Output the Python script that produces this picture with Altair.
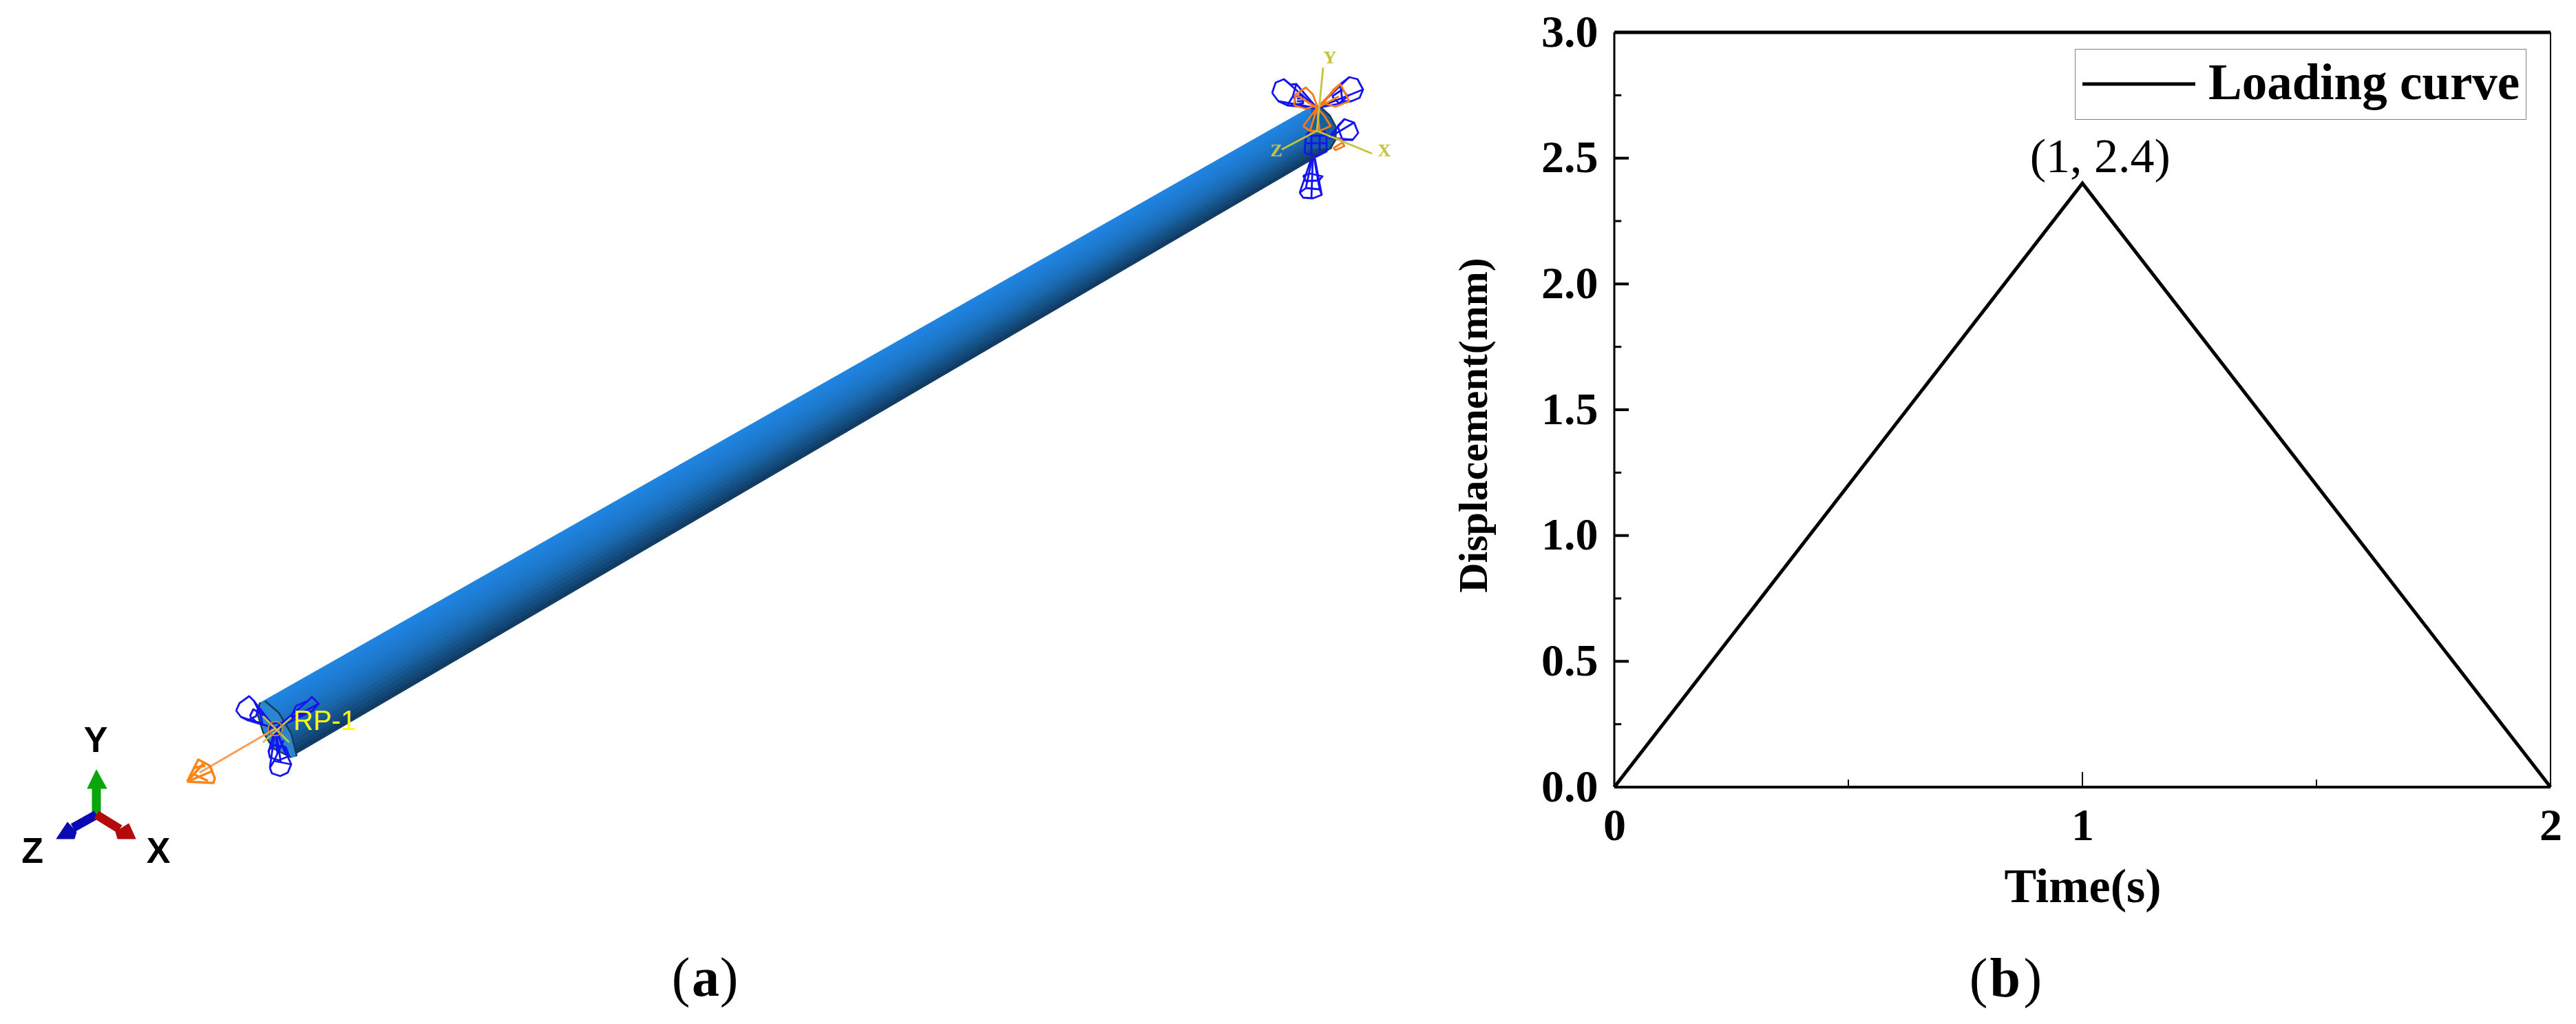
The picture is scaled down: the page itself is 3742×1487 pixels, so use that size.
import altair as alt
import pandas as pd

# ---------- right panel values ----------
time_s = [0, 1, 2]
disp_mm = [0, 2.4, 0]
series_name = "Loading curve"
y_major = [0, 0.5, 1.0, 1.5, 2.0, 2.5, 3.0]
y_minor = [0.25, 0.75, 1.25, 1.75, 2.25, 2.75]
x_major = [0, 1, 2]
x_minor = [0.5, 1.5]

SERIF = "Liberation Serif"
SANS = "Liberation Sans"

# ---------- left panel schematic, in picture coordinates ----------
tube_corners = {"tl": (379, 1020), "bl": (426, 1097), "tr": (1905, 155), "br": (1935, 215)}
tube_shades = ["#1f83e0", "#1e81dc", "#1e7ed7", "#1d7bd2", "#1d78cc", "#1c74c5", "#1b70bd",
               "#1a6bb3", "#1965a8", "#175e9c", "#15568f", "#144e82", "#124675", "#103c66"]
cap_left = [(378, 1020), (392, 1022), (410, 1040), (424, 1070), (431, 1098), (423, 1100),
            (397, 1087), (382, 1063), (373, 1033), (378, 1020)]
cap_right = [(1905, 155), (1920, 157), (1932, 168), (1941, 185), (1940, 203), (1934, 215), (1905, 215), (1905, 155)]
rim_lines = [
    [(385, 1018), (405, 1035), (423, 1065), (431, 1098)],
    [(378, 1020), (373, 1033), (382, 1063), (397, 1087), (423, 1100)],
    [(1920, 157), (1932, 168), (1941, 185), (1940, 203), (1932, 216)],
]
blue_wire = [
    [(343, 1032), (348, 1021), (362, 1011), (369, 1018), (375, 1030), (372, 1040), (360, 1046), (350, 1041), (343, 1032)],
    [(369, 1018), (400, 1058)], [(375, 1030), (400, 1058)], [(360, 1046), (400, 1058)], [(350, 1041), (400, 1058)],
    [(363, 1040), (372, 1048), (381, 1050), (378, 1036), (368, 1030), (363, 1040)],
    [(392, 1115), (398, 1105), (408, 1107), (423, 1110), (418, 1122), (407, 1127), (395, 1123), (392, 1115)],
    [(392, 1115), (400, 1058)], [(408, 1107), (400, 1058)], [(423, 1110), (400, 1058)], [(398, 1105), (412, 1075)],
    [(390, 1090), (398, 1082), (415, 1085), (420, 1098), (405, 1104), (392, 1100), (390, 1090)],
    [(430, 1025), (447, 1018), (453, 1012), (463, 1022), (453, 1033), (437, 1038), (423, 1040), (430, 1025)],
    [(447, 1018), (400, 1058)], [(453, 1033), (400, 1058)], [(463, 1022), (420, 1045)],
    [(392, 1050), (408, 1050), (408, 1066), (392, 1066), (392, 1050)],
    [(385, 1040), (400, 1058), (415, 1095)], [(400, 1058), (390, 1092)], [(400, 1058), (403, 1095)],
    [(1848, 135), (1853, 120), (1865, 115), (1875, 123), (1883, 122), (1878, 140), (1870, 153), (1857, 147), (1848, 135)],
    [(1865, 115), (1913, 157)], [(1883, 122), (1913, 157)], [(1870, 153), (1913, 157)], [(1857, 147), (1913, 157)],
    [(1880, 140), (1892, 138), (1893, 150), (1882, 152), (1880, 140)],
    [(1884, 143), (1891, 143)], [(1884, 147), (1892, 147)],
    [(1947, 122), (1960, 112), (1972, 115), (1980, 130), (1975, 142), (1963, 147), (1950, 147), (1947, 122)],
    [(1960, 112), (1913, 157)], [(1980, 130), (1913, 157)], [(1963, 147), (1913, 157)], [(1947, 122), (1913, 157)],
    [(1935, 140), (1950, 130), (1958, 140), (1945, 150), (1935, 140)],
    [(1943, 183), (1953, 173), (1967, 178), (1973, 193), (1965, 203), (1950, 203), (1943, 183)],
    [(1953, 173), (1930, 200)], [(1967, 178), (1930, 200)], [(1965, 203), (1930, 200)], [(1950, 203), (1930, 200)],
    [(1897, 197), (1927, 197), (1927, 220), (1913, 227), (1895, 222), (1897, 197)],
    [(1905, 197), (1905, 225)], [(1917, 197), (1917, 225)], [(1896, 208), (1927, 208)],
    [(1903, 190), (1897, 197)], [(1923, 190), (1927, 197)],
    [(1888, 280), (1897, 273), (1917, 275), (1920, 283), (1907, 288), (1893, 287), (1888, 280)],
    [(1888, 280), (1905, 230)], [(1897, 273), (1906, 230)], [(1917, 275), (1909, 230)], [(1920, 283), (1910, 230)], [(1905, 288), (1907, 230)],
    [(1893, 255), (1903, 252), (1921, 256), (1916, 262), (1897, 263), (1893, 255)],
]
orange_wire = [
    [(1880, 153), (1882, 137), (1897, 127), (1907, 137), (1913, 153), (1897, 158), (1880, 153)],
    [(1913, 157), (1882, 137)], [(1913, 157), (1895, 145)],
    [(1923, 150), (1937, 130), (1947, 122), (1960, 147), (1940, 155), (1923, 150)],
    [(1913, 157), (1947, 122)], [(1913, 157), (1945, 140)],
    [(1893, 183), (1903, 170), (1913, 157), (1923, 167), (1933, 183), (1917, 190), (1903, 190), (1893, 183)],
    [(1913, 157), (1903, 190)], [(1913, 157), (1917, 190)],
    [(1937, 215), (1950, 207), (1953, 212), (1940, 218), (1937, 215)],
    [(1930, 198), (1950, 203)],
]
load_shaft = [[(400, 1058), (290, 1122)]]
load_cone = [
    [(272, 1135), (288, 1103), (305, 1112), (312, 1130), (310, 1137), (272, 1135)],
    [(272, 1135), (296, 1108)], [(272, 1135), (308, 1120)],
    [(283, 1125), (302, 1134)], [(281, 1115), (298, 1112)],
]
yellow_wire = [
    [(382, 1040), (420, 1078)], [(423, 1042), (382, 1078)],
    [(1922, 98), (1913, 190)], [(1862, 217), (1913, 190)], [(1913, 190), (1993, 223)],
]
triad_shafts = [
    ("#0aa50a", [(140, 1183), (140, 1143)]),
    ("#0a0ab4", [(140, 1183), (106, 1202)]),
    ("#b40a0a", [(140, 1183), (174, 1204)]),
]
triad_heads = [
    ("#0aa50a", [(140, 1118), (127, 1145), (155, 1145), (140, 1118)]),
    ("#0a0ab4", [(82, 1218), (98, 1194), (111, 1208), (108, 1218), (82, 1218)]),
    ("#b40a0a", [(197, 1218), (187, 1196), (168, 1208), (171, 1218), (197, 1218)]),
]
sans_labels = {"text": ["Y", "Z", "X"], "x": [139, 47, 230], "y": [1092, 1253, 1253]}
rp_label = {"text": ["RP-1"], "x": [426], "y": [1060]}
csys_labels = {"text": ["Y", "Z", "X"], "x": [1932, 1854, 2011], "y": [92, 227, 227]}
ring_x, ring_y = [400], [1058]
a_text = ["(", "a", ")"]
a_x = [989, 1025, 1059]
a_y = [1446, 1446, 1446]
a_weight = ["normal", "bold", "normal"]

PAGE_X, PAGE_Y = 8, 47
L_W, L_H = 2090, 1425
xs = alt.Scale(domain=[PAGE_X, PAGE_X + L_W], nice=False, zero=False)
ys = alt.Scale(domain=[PAGE_Y + L_H, PAGE_Y], nice=False, zero=False)
X = alt.X("x:Q", scale=xs, axis=None)
Y = alt.Y("y:Q", scale=ys, axis=None)


def rows(lines):
    out = []
    for g, line in enumerate(lines):
        for i, (px, py) in enumerate(line):
            out.append({"g": g, "i": i, "x": px, "y": py})
    return pd.DataFrame(out)


def wire(lines, color, width):
    return alt.Chart(rows(lines)).mark_line(stroke=color, strokeWidth=width, strokeJoin="round", clip=False).encode(
        x=X, y=Y, detail="g:N", order="i:Q")


def poly(points, color):
    return alt.Chart(rows([points])).mark_line(fill=color, stroke=color, strokeWidth=1, clip=False).encode(
        x=X, y=Y, detail="g:N", order="i:Q")


left_layers = []
n = len(tube_shades)
(tlx, tly), (blx, bly), (trx, try_), (brx, bry) = (tube_corners[k] for k in ["tl", "bl", "tr", "br"])
for k, shade in enumerate(tube_shades):
    a, b = k / n, (k + 1) / n
    left_layers.append(poly([
        (tlx + (blx - tlx) * a, tly + (bly - tly) * a),
        (trx + (brx - trx) * a, try_ + (bry - try_) * a),
        (trx + (brx - trx) * b, try_ + (bry - try_) * b),
        (tlx + (blx - tlx) * b, tly + (bly - tly) * b),
        (tlx + (blx - tlx) * a, tly + (bly - tly) * a),
    ], shade))
left_layers.append(poly(cap_right, "#17609f"))
left_layers.append(poly(cap_left, "#2a86d2"))
left_layers.append(wire(rim_lines, "#1a3a55", 2.5))
left_layers.append(wire(blue_wire, "#1414f0", 2.8))
left_layers.append(wire(orange_wire, "#ff7a14", 2.8))
left_layers.append(wire(load_shaft, "#ff9d55", 3))
left_layers.append(wire(load_cone, "#ff8418", 3.5))
left_layers.append(wire(yellow_wire, "#c3c33c", 2.8))
left_layers.append(
    alt.Chart(pd.DataFrame({"x": ring_x, "y": ring_y})).mark_point(
        shape="circle", size=420, color="#c08a20", strokeWidth=2, filled=False, opacity=1
    ).encode(x=X, y=Y)
)
for color, shaft in triad_shafts:
    left_layers.append(wire([shaft], color, 13))
for color, head in triad_heads:
    left_layers.append(poly(head, color))
left_layers.append(
    alt.Chart(pd.DataFrame(sans_labels)).mark_text(
        font=SANS, fontWeight="bold", fontSize=52, color="#000000", baseline="alphabetic", align="center"
    ).encode(x=X, y=Y, text="text:N")
)
left_layers.append(
    alt.Chart(pd.DataFrame(rp_label)).mark_text(
        font=SANS, fontSize=40, color="#ffff00", baseline="alphabetic", align="left"
    ).encode(x=X, y=Y, text="text:N")
)
left_layers.append(
    alt.Chart(pd.DataFrame(csys_labels)).mark_text(
        font=SERIF, fontWeight="bold", fontSize=26, color="#c3c33c", baseline="alphabetic", align="center"
    ).encode(x=X, y=Y, text="text:N")
)
a_df = pd.DataFrame({"text": a_text, "x": a_x, "y": a_y, "w": a_weight})
left_layers.append(
    alt.Chart(a_df).transform_filter(alt.datum.w == "normal").mark_text(
        font=SERIF, fontSize=80, color="#000000", baseline="alphabetic", align="center"
    ).encode(x=X, y=Y, text="text:N")
)
left_layers.append(
    alt.Chart(a_df).transform_filter(alt.datum.w == "bold").mark_text(
        font=SERIF, fontWeight="bold", fontSize=80, color="#000000", baseline="alphabetic", align="center"
    ).encode(x=X, y=Y, text="text:N")
)
left = alt.layer(*left_layers).properties(width=L_W, height=L_H)

# ---------- right panel ----------
P_W, P_H = 1360, 1096
tx = alt.Scale(domain=[0, 2], nice=False, zero=False)
ty = alt.Scale(domain=[0, 3], nice=False, zero=False)
x_axis = alt.Axis(
    values=x_major, format=".0f", title="Time(s)", grid=False, ticks=False, domain=False,
    labelFont=SERIF, labelFontWeight="bold", labelFontSize=66, labelColor="#000000", labelPadding=24,
    labelFlush=False, labelOverlap=False,
    titleFont=SERIF, titleFontWeight="bold", titleFontSize=70, titleColor="#000000", titlePadding=22)
y_axis = alt.Axis(
    values=y_major, format=".1f", title="Displacement(mm)", grid=False, ticks=False, domain=False,
    labelFont=SERIF, labelFontWeight="bold", labelFontSize=66, labelColor="#000000", labelPadding=24,
    labelFlush=False, labelOverlap=False, titleY=570,
    titleFont=SERIF, titleFontWeight="bold", titleFontSize=60, titleColor="#000000", titlePadding=66)
TX = alt.X("t:Q", scale=tx, axis=x_axis)
TY = alt.Y("d:Q", scale=ty, axis=y_axis)

curve_df = pd.DataFrame({"t": time_s, "d": disp_mm, "s": [series_name] * 3})
curve = alt.Chart(curve_df).mark_line(strokeWidth=5, strokeJoin="miter").encode(
    x=TX, y=TY,
    color=alt.Color("s:N", scale=alt.Scale(domain=[series_name], range=["#000000"]), legend=alt.Legend(
        orient="none", legendX=3006, legendY=24, title=None, labelLimit=700, clipHeight=86,
        labelFont=SERIF, labelFontWeight="bold", labelFontSize=73, labelColor="#000000",
        symbolType="stroke", symbolSize=26900, symbolStrokeWidth=5, labelOffset=16,
        strokeColor="#808080", fillColor="#ffffff", padding=8, cornerRadius=0)),
)


def rule_h(vals, start, end, width):
    df = pd.DataFrame({"d": vals, "a": [start] * len(vals), "b": [end] * len(vals)})
    return alt.Chart(df).mark_rule(color="#000000", strokeWidth=width).encode(
        y=TY, x=alt.X("a:Q", scale=tx, axis=x_axis), x2="b:Q")


def rule_v(vals, start, end, width):
    df = pd.DataFrame({"t": vals, "a": [start] * len(vals), "b": [end] * len(vals)})
    return alt.Chart(df).mark_rule(color="#000000", strokeWidth=width).encode(
        x=TX, y=alt.Y("a:Q", scale=ty, axis=y_axis), y2="b:Q")


frame = [
    rule_h([3], 0, 2, 5), rule_h([0], 0, 2, 4),
    rule_v([0], 0, 3, 3), rule_v([2], 0, 3, 2),
]
ticks = [
    rule_h(y_major, 0, 0.031, 4), rule_h(y_minor, 0, 0.015, 3),
    rule_v(x_major[1:2], 0, 0.06, 2), rule_v(x_minor, 0, 0.03, 2),
]
note = alt.Chart(pd.DataFrame({"t": [1.038], "d": [2.445], "text": ["(1, 2.4)"]})).mark_text(
    font=SERIF, fontSize=70, color="#000000", baseline="alphabetic", align="center"
).encode(x=TX, y=TY, text="text:N")
b_text = ["(", "b", ")"]
b_t = [0.778, 0.835, 0.894]
b_d = [-0.832, -0.832, -0.832]
b_weight = ["normal", "bold", "normal"]
b_df = pd.DataFrame({"text": b_text, "t": b_t, "d": b_d, "w": b_weight})
b_reg = alt.Chart(b_df).transform_filter(alt.datum.w == "normal").mark_text(
    font=SERIF, fontSize=80, color="#000000", baseline="alphabetic", align="center", clip=False
).encode(x=TX, y=TY, text="text:N")
b_bold = alt.Chart(b_df).transform_filter(alt.datum.w == "bold").mark_text(
    font=SERIF, fontWeight="bold", fontSize=80, color="#000000", baseline="alphabetic", align="center", clip=False
).encode(x=TX, y=TY, text="text:N")

right = alt.layer(curve, *frame, *ticks, note, b_reg, b_bold).properties(width=P_W, height=P_H)

chart = alt.hconcat(left, right, spacing=13).properties(
    padding={"left": 0, "top": 6, "right": 0, "bottom": 0}, background="#ffffff"
).configure_view(stroke=None)

chart.save("out.html", embed_options={"renderer": "svg", "actions": False})
